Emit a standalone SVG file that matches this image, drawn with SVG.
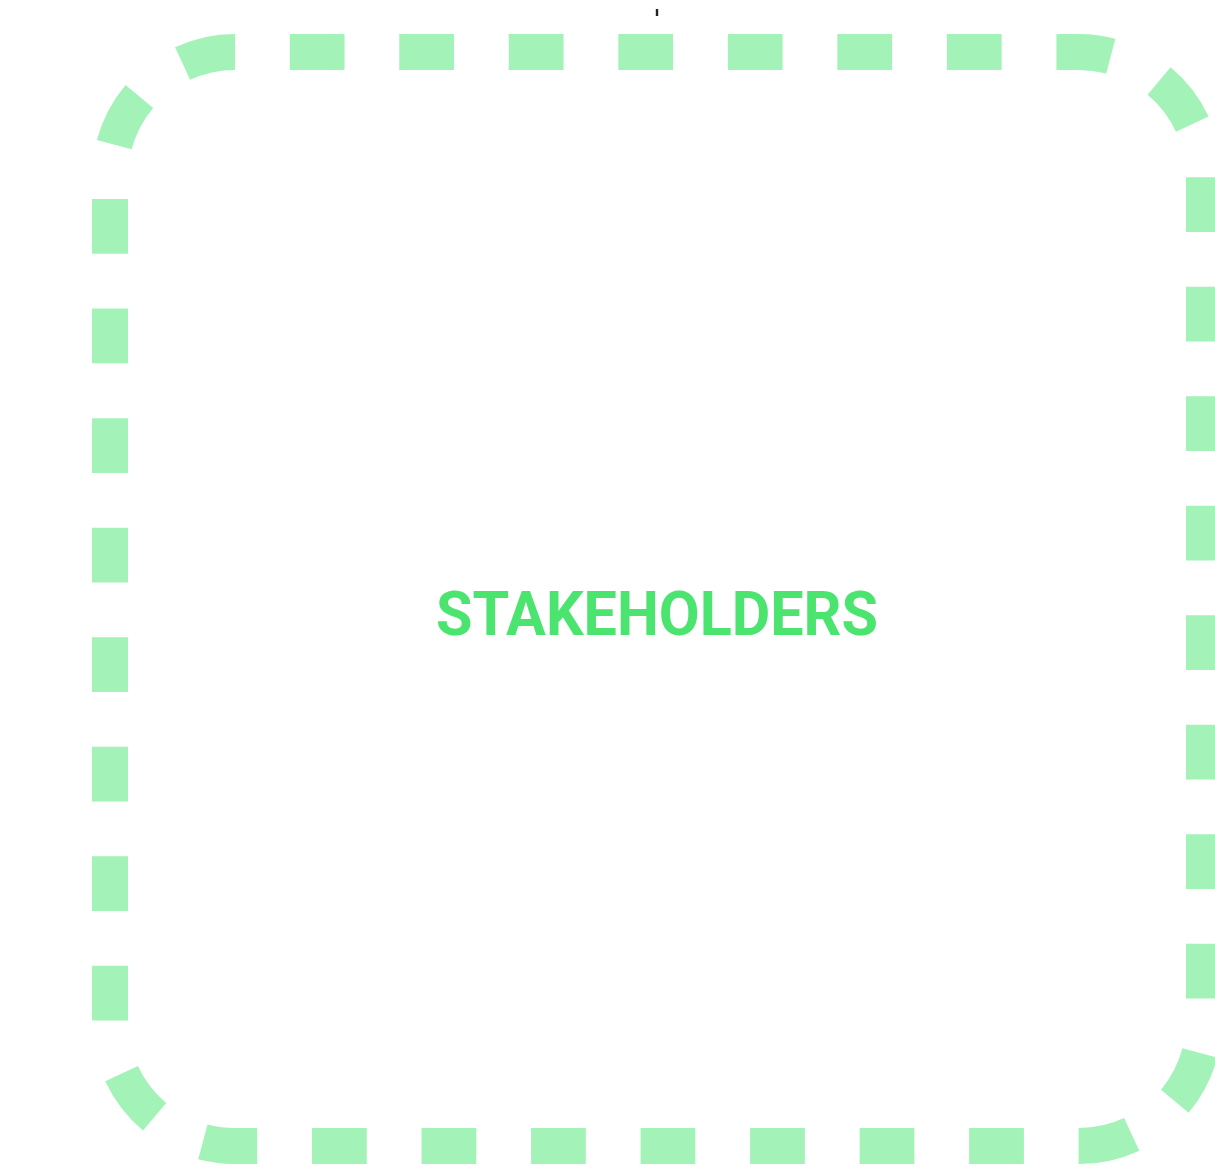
<svg xmlns="http://www.w3.org/2000/svg" width="1215" height="1173" viewBox="0 0 1215 1173">
  <style>
    .frame { fill: none; stroke: #a3f2b8; stroke-width: 36; stroke-dasharray: 54.76 54.76; stroke-dashoffset: 54.76; }
    .label { font-family: Roboto, "Liberation Sans", sans-serif; font-weight: 700; font-size: 62px; fill: #4ae46f; }
  </style>
  <rect width="1215" height="1173" fill="#ffffff"/>
  <g id="stakeholders">
    <rect class="frame" x="110" y="52" width="1094" height="1094" rx="125" ry="125"/>
    <text class="label" x="657" y="635" text-anchor="middle" textLength="442" lengthAdjust="spacingAndGlyphs">STAKEHOLDERS</text>
  </g>
  <g id="connectors">
    <line x1="657" y1="9" x2="657" y2="16" stroke="#222222" stroke-width="2.4"/>
  </g>
</svg>
